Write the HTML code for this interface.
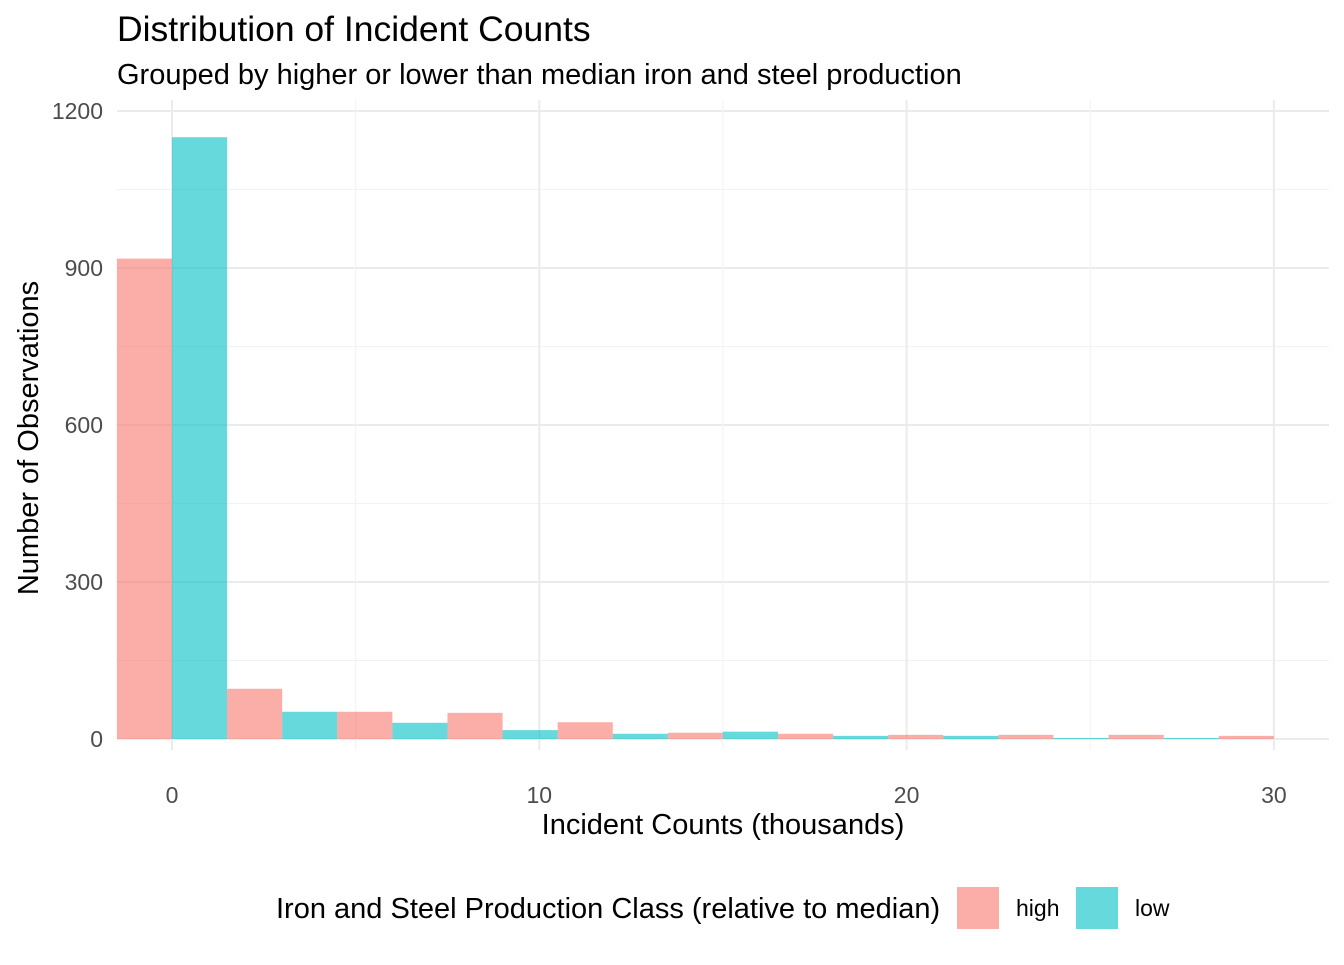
<!DOCTYPE html>
<html><head><meta charset="utf-8"><style>
body{margin:0;background:#fff;}
svg text{font-family:"Liberation Sans",sans-serif;}
</style></head><body>
<svg id="chart" width="1344" height="960" xmlns="http://www.w3.org/2000/svg">
<text x="117" y="41" font-size="35.5" fill="#000">Distribution of Incident Counts</text>
<text x="117" y="84" font-size="29" fill="#000">Grouped by higher or lower than median iron and steel production</text>
<g id="grid"></g>
<g id="bars"></g>
<g id="ticks"></g>
<text x="723" y="834" font-size="29" text-anchor="middle" fill="#000">Incident Counts (thousands)</text>
<text transform="translate(38,438) rotate(-90)" font-size="29" text-anchor="middle" fill="#000">Number of Observations</text>
<g>
<text x="276" y="918" font-size="29" fill="#000">Iron and Steel Production Class (relative to median)</text>
<g><rect x="957" y="887" width="42" height="42" fill="#F8766D" fill-opacity="0.6"/><text x="1016" y="916" font-size="23" fill="#000">high</text></g>
<g><rect x="1076" y="887" width="42" height="42" fill="#00BFC4" fill-opacity="0.6"/><text x="1135" y="916" font-size="23" fill="#000">low</text></g>
</g>
</svg>
<script>
const binCenters=[0,3,6,9,12,15,18,21,24,27,30];
const highCounts=[918,96,52,50,32,12,10,8,8,8,6];
const lowCounts=[1150,52,31,17,10,14,6,6,2,2,0];
const xTicks=[0,10,20,30];
const yTicks=[0,300,600,900,1200];
const binWidth=3;
const NS="http://www.w3.org/2000/svg";
const X=v=>172+v*36.73, Y=v=>739-v*0.5233;
const L=117,R=1329,T=100,B=750;
function mk(tag,attrs,parent){const e=document.createElementNS(NS,tag);for(const k in attrs)e.setAttribute(k,attrs[k]);parent.appendChild(e);return e;}
const grid=document.getElementById('grid'),bars=document.getElementById('bars'),ticks=document.getElementById('ticks');
for(let i=0;i<yTicks.length;i++){
  const v=yTicks[i];
  const l=mk('line',{x1:L,x2:R,y1:Y(v),y2:Y(v),stroke:'#EBEBEB','stroke-width':2},grid);
  
  
  if(i<yTicks.length-1){const m=(v+yTicks[i+1])/2;
    const ml=mk('line',{x1:L,x2:R,y1:Y(m),y2:Y(m),stroke:'#F2F2F2','stroke-width':1},grid);
    
    }
  const t=mk('text',{x:103,y:Y(v)+8,'font-size':23,'text-anchor':'end',fill:'#4D4D4D'},ticks);t.textContent=v;
  
  
}
for(let i=0;i<xTicks.length;i++){
  const v=xTicks[i];
  const l=mk('line',{x1:X(v),x2:X(v),y1:T,y2:B,stroke:'#EBEBEB','stroke-width':2},grid);
  
  
  if(i<xTicks.length-1){const m=(v+xTicks[i+1])/2;
    const ml=mk('line',{x1:X(m),x2:X(m),y1:T,y2:B,stroke:'#F2F2F2','stroke-width':1},grid);
    
    }
  const t=mk('text',{x:X(v),y:803,'font-size':23,'text-anchor':'middle',fill:'#4D4D4D'},ticks);t.textContent=v;
  
  
}
binCenters.forEach((c,i)=>{
  const w=X(binWidth/2)-X(0);
  const h=mk('rect',{x:X(c)-w,y:Y(highCounts[i]),width:w,height:Y(0)-Y(highCounts[i]),fill:'#F8766D','fill-opacity':0.6},bars);
  
  
  const lo=mk('rect',{x:X(c),y:Y(lowCounts[i]),width:w,height:Y(0)-Y(lowCounts[i]),fill:'#00BFC4','fill-opacity':0.6},bars);
  
  
});
</script>
</body></html>
